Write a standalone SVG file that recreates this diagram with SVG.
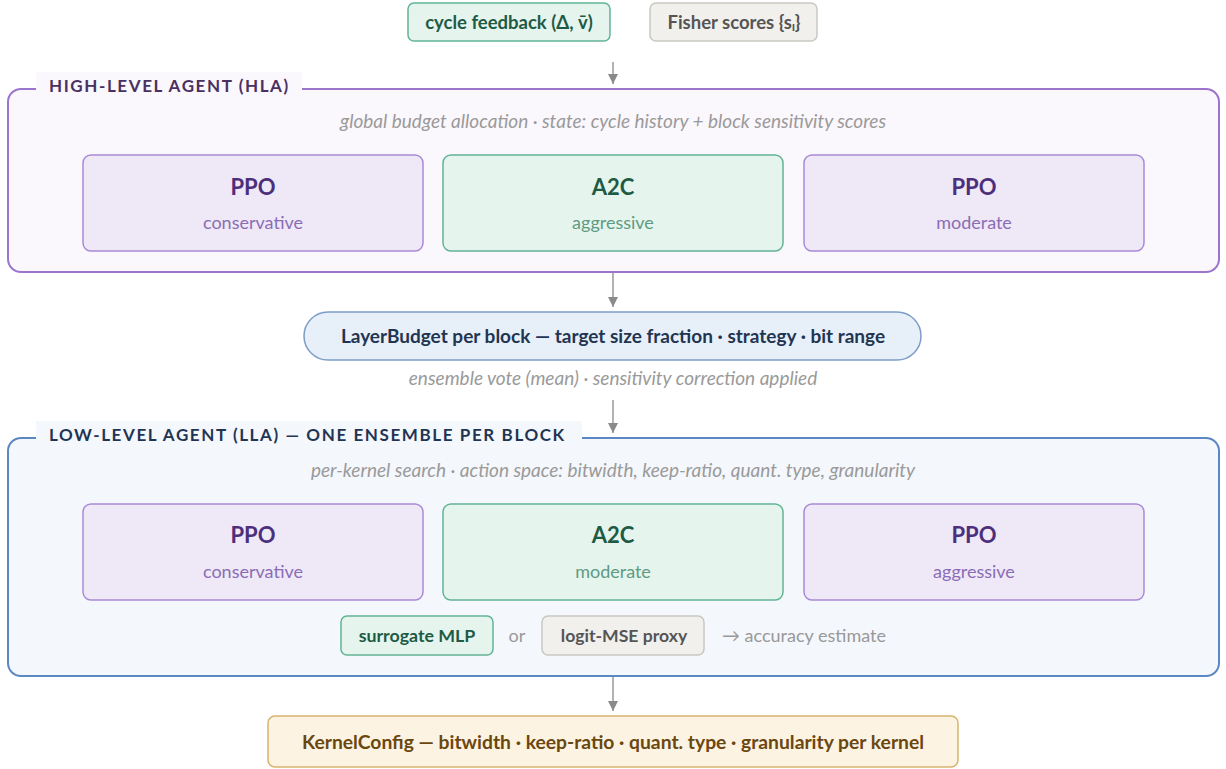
<svg xmlns="http://www.w3.org/2000/svg" width="1226" height="769" viewBox="0 0 1226 769">
<defs>
<marker id="ah" viewBox="0 0 10 10" refX="10" refY="5" markerWidth="10" markerHeight="12" markerUnits="userSpaceOnUse" orient="auto">
<path d="M0,0 L10,5 L0,10 Z" fill="#8a8a8a"/>
</marker>
<style>
text{font-family:Lato,"Noto Sans","DejaVu Sans",sans-serif}
.c{text-anchor:middle}
.b{font-weight:bold}
.it{font-style:italic;fill:#9a9a9a;font-size:19px}
.green{fill:#e6f4ee;stroke:#62b496;stroke-width:1.5}
.gray{fill:#f1f0ec;stroke:#c9c7c2;stroke-width:1.5}
.purp{fill:#efe8f7;stroke:#a98ad6;stroke-width:1.5}
.ttl{font-size:17px;font-weight:bold;letter-spacing:1.6px}
.ppo{fill:#4b2f7c;font-size:22px;font-weight:bold}
.pposub{fill:#8a6db5;font-size:18px}
.a2c{fill:#1e5b45;font-size:22px;font-weight:bold}
.a2csub{fill:#5e9b82;font-size:18px}
.conn line{stroke:#9a9a9a;stroke-width:1.5;marker-end:url(#ah)}
</style>
</defs>
<rect width="1226" height="769" fill="#ffffff"/>

<g id="cycle-feedback">
<rect x="408" y="3" width="202" height="38" rx="6" class="green"/>
<text x="509" y="28.5" class="c b" font-size="18.5" fill="#1e5b45">cycle feedback (Δ, v̄)</text>
</g>
<g id="fisher-scores">
<rect x="650" y="3" width="167" height="38" rx="6" class="gray"/>
<text x="734" y="28.5" class="c b" font-size="18.5" fill="#555">Fisher scores {sᵢ}</text>
</g>

<g id="hla">
<rect x="8" y="89" width="1211" height="183" rx="13" fill="#faf7fd" stroke="#9b74cc" stroke-width="2"/>
<rect x="36" y="72" width="266" height="28" fill="#faf7fd"/>
<text x="49" y="92" class="ttl" fill="#4a3060">HIGH-LEVEL AGENT (HLA)</text>
<text x="613" y="128" class="c it">global budget allocation · state: cycle history + block sensitivity scores</text>
</g>
<g id="hla-ppo-conservative">
<rect x="83" y="155" width="340" height="96" rx="8" class="purp"/>
<text x="253" y="195" class="c ppo">PPO</text>
<text x="253" y="229" class="c pposub">conservative</text>
</g>
<g id="hla-a2c-aggressive">
<rect x="443" y="155" width="340" height="96" rx="8" class="green"/>
<text x="613" y="195" class="c a2c">A2C</text>
<text x="613" y="229" class="c a2csub">aggressive</text>
</g>
<g id="hla-ppo-moderate">
<rect x="804" y="155" width="340" height="96" rx="8" class="purp"/>
<text x="974" y="195" class="c ppo">PPO</text>
<text x="974" y="229" class="c pposub">moderate</text>
</g>

<g id="layerbudget">
<rect x="304" y="312" width="617" height="48" rx="24" fill="#e7eff8" stroke="#7d9dc8" stroke-width="1.5"/>
<text x="613" y="342.5" class="c b" font-size="19" fill="#1f3552">LayerBudget per block — target size fraction · strategy · bit range</text>
</g>
<text x="613" y="385" class="c it">ensemble vote (mean) · sensitivity correction applied</text>

<g id="lla">
<rect x="8" y="438" width="1211" height="238" rx="13" fill="#f4f7fc" stroke="#5b87c2" stroke-width="2"/>
<rect x="36" y="421" width="546" height="28" fill="#f4f7fc"/>
<text x="49" y="441" class="ttl" fill="#1f3552">LOW-LEVEL AGENT (LLA) — ONE ENSEMBLE PER BLOCK</text>
<text x="613" y="477" class="c it">per-kernel search · action space: bitwidth, keep-ratio, quant. type, granularity</text>
</g>
<g id="lla-ppo-conservative">
<rect x="83" y="504" width="340" height="96" rx="8" class="purp"/>
<text x="253" y="543" class="c ppo">PPO</text>
<text x="253" y="578" class="c pposub">conservative</text>
</g>
<g id="lla-a2c-moderate">
<rect x="443" y="504" width="340" height="96" rx="8" class="green"/>
<text x="613" y="543" class="c a2c">A2C</text>
<text x="613" y="578" class="c a2csub">moderate</text>
</g>
<g id="lla-ppo-aggressive">
<rect x="804" y="504" width="340" height="96" rx="8" class="purp"/>
<text x="974" y="543" class="c ppo">PPO</text>
<text x="974" y="578" class="c pposub">aggressive</text>
</g>
<g id="surrogate-mlp">
<rect x="341" y="616" width="152" height="39" rx="6" class="green"/>
<text x="417" y="642" class="c b" font-size="17.8" fill="#1e5b45">surrogate MLP</text>
</g>
<text x="517" y="642" class="c" font-size="18" fill="#999">or</text>
<g id="logit-mse-proxy">
<rect x="542" y="616" width="162" height="39" rx="6" class="gray"/>
<text x="624" y="642" class="c b" font-size="17.6" fill="#555">logit-MSE proxy</text>
</g>
<text x="722" y="642" font-size="18" fill="#999">→ accuracy estimate</text>

<g id="kernelconfig">
<rect x="268" y="716" width="690" height="51" rx="7" fill="#fdf3e2" stroke="#d6b46e" stroke-width="1.5"/>
<text x="613" y="748.5" class="c b" font-size="19.3" fill="#6b4710">KernelConfig — bitwidth · keep-ratio · quant. type · granularity per kernel</text>
</g>

<g class="conn">
<line x1="613" y1="62" x2="613" y2="84"/>
<line x1="613" y1="273" x2="613" y2="307"/>
<line x1="613" y1="400" x2="613" y2="433"/>
<line x1="613" y1="677" x2="613" y2="711"/>
</g>
</svg>
